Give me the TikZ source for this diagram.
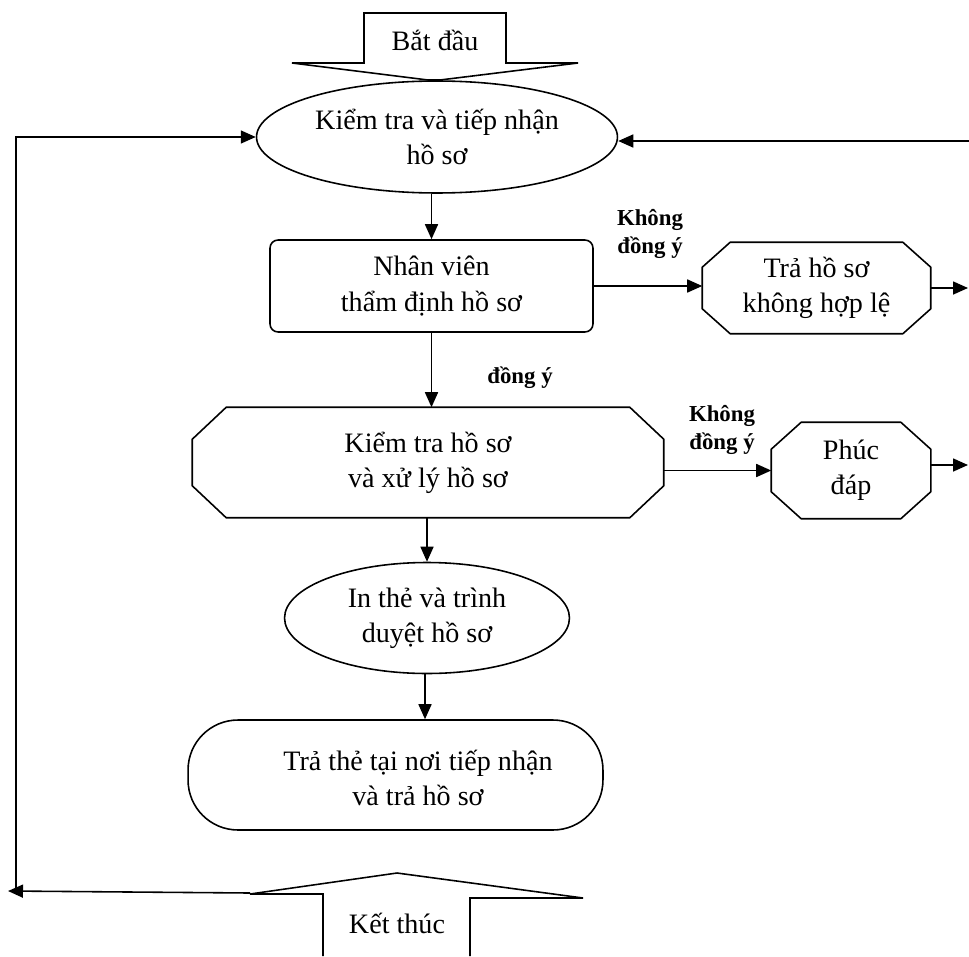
\documentclass[tikz,border=0pt]{standalone}
\usepackage{fontspec}
\setmainfont{Liberation Serif}
\usetikzlibrary{arrows.meta,shapes.geometric}

% octagon round a named node: node, horizontal cut, vertical cut
\newcommand\octbox[3]{%
  \draw ([xshift=#2]#1.north west) -- ([xshift=-#2]#1.north east)
     -- ([yshift=-#3]#1.north east) -- ([yshift=#3]#1.south east)
     -- ([xshift=-#2]#1.south east) -- ([xshift=#2]#1.south west)
     -- ([yshift=#3]#1.south west) -- ([yshift=-#3]#1.north west) -- cycle;}

\begin{document}
\begin{tikzpicture}[x=0.02cm,y=-0.02cm,line width=0.9pt,
    font=\fontsize{16}{20}\selectfont,
    arr/.style={-{Triangle[length=0.3cm,width=0.26cm]}},
    oval/.style={ellipse,draw,align=center,inner sep=0pt},
    octa/.style={rectangle,align=center,inner sep=0pt},
    lbl/.style={font=\fontsize{13}{16}\bfseries\selectfont,align=center}]
  \useasboundingbox (0,0) rectangle (969,956);
  % start and end blocks
  \draw (364,63) -- (364,13) -- (506,13) -- (506,63) -- (578,63) -- (440,80) -- (428,80) -- (292,63) -- cycle;
  \node (start) at (435,40) {Bắt đầu};
  \draw (323,956) -- (323,894) -- (250,894) -- (397,873) -- (583,898) -- (470,898) -- (470,956);
  \node (stop) at (397,923) {Kết thúc};
  % boxes
  \node[oval,minimum width=7.22cm,minimum height=2.24cm] (e1) at (437,137) {Kiểm tra và tiếp nhận\\hồ sơ};
  \node[draw,rounded corners=0.16cm,align=center,minimum width=6.46cm,minimum height=1.84cm] (n2) at (431.5,286) {Nhân viên\\thẩm định hồ sơ};
  \node[octa,minimum width=4.54cm,minimum height=1.8cm] (tra) at (816.5,288) {Trả hồ sơ\\không hợp lệ};
  \octbox{tra}{0.56cm}{0.5cm}
  \node[octa,minimum width=9.4cm,minimum height=2.18cm] (n3) at (428,462.5) {Kiểm tra hồ sơ\\và xử lý hồ sơ};
  \octbox{n3}{0.68cm}{0.64cm}
  \node[octa,minimum width=3.16cm,minimum height=1.9cm] (phuc) at (851,470.5) {Phúc\\đáp};
  \octbox{phuc}{0.6cm}{0.54cm}
  \node[oval,minimum width=5.7cm,minimum height=2.22cm] (e4) at (427,618) {In thẻ và trình\\duyệt hồ sơ};
  \node[draw,rounded corners=1cm,minimum width=8.3cm,minimum height=2.2cm] (n5) at (395.5,775) {};
  \node[align=center] (n5t) at (418,778) {Trả thẻ tại nơi tiếp nhận\\và trả hồ sơ};
  % free ends
  \coordinate (ktl) at (250,893);
  \coordinate (lft) at (8,891);
  \coordinate (lcorner) at (16,891);
  \coordinate (rin) at (969,141);
  \coordinate (out1) at (968,290);
  \coordinate (out2) at (968,465);
  % connectors
  \draw[arr] (ktl) -- (lft);
  \draw[arr] (lcorner) |- (e1.west);
  \draw[arr] (rin) -- (rin -| e1.east);
  \draw[arr] (n2.north |- e1.south) -- (n2.north);
  \draw[arr] (n2.south) -- (n2.south |- n3.north);
  \draw[arr] (n2.east) -- (n2.east -| tra.west);
  \draw[arr] (tra.east) -- (tra.east -| out1);
  \draw[arr] (n3.east |- phuc) -- (phuc.west);
  \draw[arr] (phuc.east |- out2) -- (out2);
  \draw[arr] (n3.south -| e4.north) -- (e4.north);
  \draw[arr] (e4.south -| 425,0) -- (n5.north -| 425,0);
  % labels
  \node[lbl] (ok) at (520,378) {đồng ý};
  \node[lbl] (no1) at (650,234) {Không\\đồng ý};
  \node[lbl] (no2) at (722,430) {Không\\đồng ý};
\end{tikzpicture}
\end{document}
